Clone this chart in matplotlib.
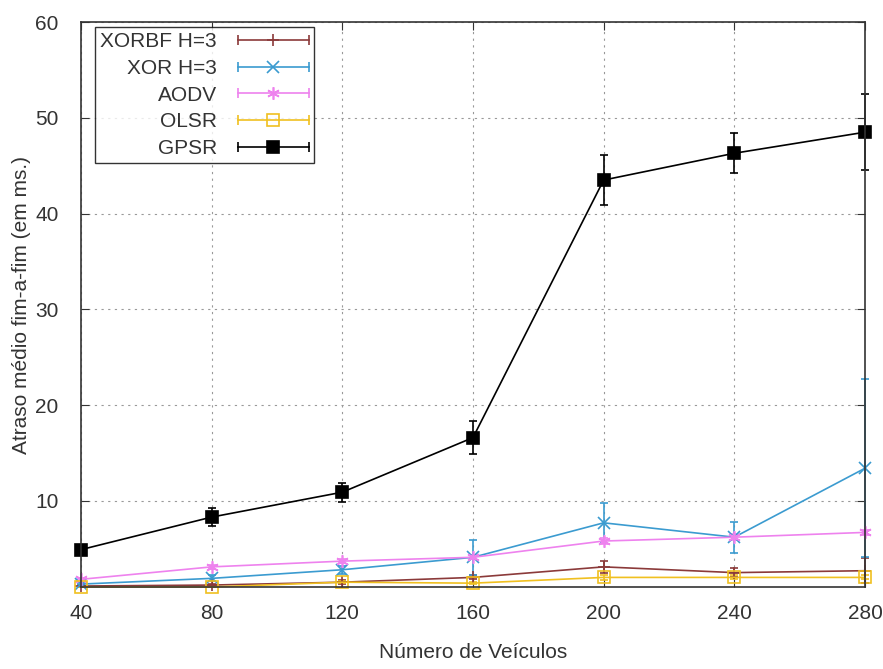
import matplotlib.pyplot as plt
from matplotlib.legend_handler import HandlerBase
from matplotlib.lines import Line2D

plt.rcParams['font.family'] = ['Liberation Sans', 'DejaVu Sans']

# Data
veiculos = [40, 80, 120, 160, 200, 240, 280]

xorbf = [1.1, 1.2, 1.5, 2.0, 3.1, 2.5, 2.7]
xorbf_err = [0.1, 0.1, 0.2, 0.2, 0.6, 0.5, 1.3]

xor = [1.3, 1.9, 2.8, 4.1, 7.7, 6.2, 13.4]
xor_err = [0.1, 0.3, 0.4, 1.8, 2.1, 1.6, 9.3]

aodv = [1.8, 3.1, 3.7, 4.1, 5.8, 6.2, 6.7]
aodv_err = [0.1, 0.2, 0.2, 0.2, 0.3, 0.3, 0.3]

olsr = [1.0, 1.0, 1.5, 1.4, 2.0, 2.0, 2.0]
olsr_err = [0.05, 0.05, 0.1, 0.1, 0.3, 0.2, 0.2]

gpsr = [4.9, 8.3, 10.9, 16.6, 43.5, 46.3, 48.5]
gpsr_err = [0.2, 0.9, 1.0, 1.7, 2.65, 2.1, 4.0]

series = [
    ("XORBF H=3", xorbf, xorbf_err, '#8b3a3a', '+', 'full'),
    ("XOR H=3", xor, xor_err, '#3b9bd0', 'x', 'full'),
    ("AODV", aodv, aodv_err, '#ee82ee', (6, 2, 0), 'full'),
    ("OLSR", olsr, olsr_err, '#f0c020', 's', 'none'),
    ("GPSR", gpsr, gpsr_err, 'black', 's', 'full'),
]


# gnuplot-style legend sample: horizontal bar with end caps, marker in the middle
class HandlerHErr(HandlerBase):
    def __init__(self, color, marker, fill):
        super().__init__()
        self.color, self.marker, self.fill = color, marker, fill

    def create_artists(self, legend, orig, xd, yd, width, height, fontsize, trans):
        y = yd + height / 2
        line = Line2D([xd, xd + width], [y, y], color=self.color, lw=1.2)
        caps = Line2D([xd, xd + width], [y, y], color=self.color, lw=0,
                      marker='|', markersize=7, markeredgewidth=1.2)
        mk = Line2D([xd + width / 2], [y], color=self.color, lw=0,
                    marker=self.marker, fillstyle=self.fill,
                    markersize=8 if self.marker == 's' else 9, markeredgewidth=1.2)
        for a in (line, caps, mk):
            a.set_transform(trans)
        return [line, caps, mk]


fig = plt.figure(figsize=(8.83, 6.69), dpi=100)
ax = fig.add_axes([0.0917, 0.1226, 0.8879, 0.8444])

handles, handler_map = [], {}
for name, vals, err, color, marker, fill in series:
    h = ax.errorbar(veiculos, vals, yerr=err, color=color, marker=marker,
                    fillstyle=fill, markersize=8 if marker == 's' else 9,
                    markeredgewidth=1.2, linewidth=1.2, capsize=3,
                    elinewidth=1.2, label=name)
    for a in h.lines[0:1] + tuple(h.lines[1]) + tuple(h.lines[2]):
        a.set_clip_on(False)
    handles.append(h)
    handler_map[h] = HandlerHErr(color, marker, fill)

ax.set_xlim(40, 280)
ax.set_ylim(1, 60)
ax.set_xticks(veiculos)
ax.set_yticks([10, 20, 30, 40, 50, 60])
ax.tick_params(direction='in', top=True, right=True, length=6,
               labelsize=15, colors='#333333', pad=12)
ax.tick_params(axis='y', pad=16)
ax.grid(True, color='#999999', linestyle=(0, (2, 4)), linewidth=0.8)

for s in ax.spines.values():
    s.set_color('#333333')
    s.set_linewidth(1.2)

ax.set_xlabel("Número de Veículos", fontsize=15, color='#333333', labelpad=15)
ax.set_ylabel("Atraso médio fim-a-fim (em ms.)", fontsize=15, color='#333333', labelpad=3)

leg = ax.legend(handles, [s[0] for s in series], handler_map=handler_map,
                loc='upper left', bbox_to_anchor=(0.0179, 0.991), borderaxespad=0,
                markerfirst=False, fontsize=15, frameon=True, fancybox=False,
                edgecolor='black', handlelength=3.4, handletextpad=1.0,
                labelspacing=0.37, borderpad=0.25)
leg.get_frame().set_linewidth(1.0)
for t in leg.get_texts():
    t.set_color('#333333')

plt.savefig('out.png', dpi=100)
